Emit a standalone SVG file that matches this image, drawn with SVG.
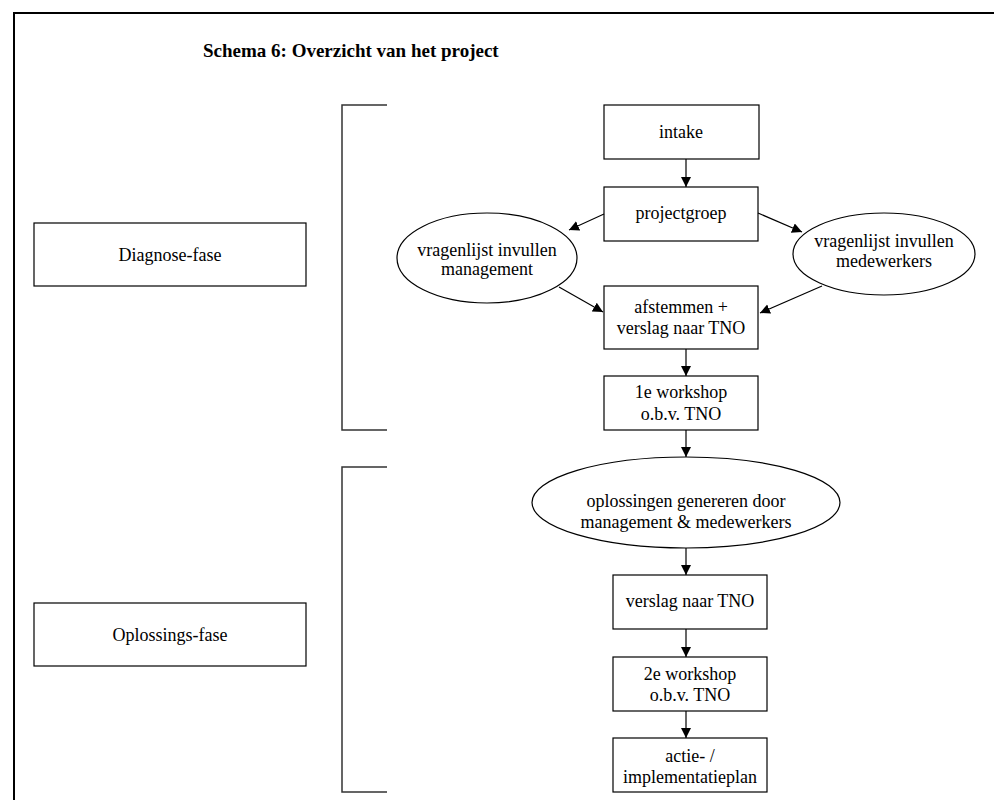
<svg xmlns="http://www.w3.org/2000/svg" width="994" height="800" viewBox="0 0 994 800">
  <style>
    text { font-family: "Liberation Serif", "Times New Roman", serif; font-size: 18px; fill: #000; text-anchor: middle; }
    .title { font-size: 19px; font-weight: bold; text-anchor: start; }
    .box { fill: #fff; stroke: #000; stroke-width: 1.2; }
    .bracket { fill: none; stroke: #333; stroke-width: 1.5; }
    .edge { fill: none; stroke: #000; stroke-width: 1.2; marker-end: url(#arrow); }
  </style>
  <defs>
    <marker id="arrow" markerUnits="userSpaceOnUse" markerWidth="11" markerHeight="11" refX="10" refY="5" orient="auto">
      <path d="M0,0 L10,5 L0,10 z" fill="#000"/>
    </marker>
  </defs>

  <rect width="994" height="800" fill="#fff"/>
  <!-- page frame (open to the right and bottom) -->
  <path d="M14,800 L14,13 L994,13" fill="none" stroke="#000" stroke-width="2"/>

  <text class="title" x="203" y="57">Schema 6: Overzicht van het project</text>

  <!-- phase brackets -->
  <path class="bracket" d="M387,105 L342,105 L342,430 L387,430"/>
  <path class="bracket" d="M387,467 L342,467 L342,792 L387,792"/>

  <!-- phase labels -->
  <g id="diagnose-fase">
    <rect class="box" x="34" y="223" width="272" height="63"/>
    <text x="170" y="261">Diagnose-fase</text>
  </g>
  <g id="oplossings-fase">
    <rect class="box" x="34" y="603" width="272" height="63"/>
    <text x="170" y="641">Oplossings-fase</text>
  </g>

  <!-- process steps -->
  <g id="intake">
    <rect class="box" x="604" y="105" width="155" height="54"/>
    <text x="681" y="138">intake</text>
  </g>
  <g id="projectgroep">
    <rect class="box" x="604" y="187" width="154" height="54"/>
    <text x="681" y="219">projectgroep</text>
  </g>
  <g id="vragenlijst-management">
    <ellipse class="box" cx="487" cy="258" rx="90" ry="45"/>
    <text x="487" y="256">vragenlijst invullen</text>
    <text x="487" y="275">management</text>
  </g>
  <g id="vragenlijst-medewerkers">
    <ellipse class="box" cx="884" cy="254" rx="91" ry="41"/>
    <text x="884" y="247">vragenlijst invullen</text>
    <text x="884" y="267">medewerkers</text>
  </g>
  <g id="afstemmen">
    <rect class="box" x="604" y="286" width="154" height="63"/>
    <text x="681" y="313">afstemmen +</text>
    <text x="681" y="334">verslag naar TNO</text>
  </g>
  <g id="workshop-1">
    <rect class="box" x="604" y="376" width="154" height="54"/>
    <text x="681" y="398">1e workshop</text>
    <text x="681" y="420">o.b.v. TNO</text>
  </g>
  <g id="oplossingen">
    <ellipse class="box" cx="686" cy="502.5" rx="154" ry="45.5"/>
    <text x="686" y="507">oplossingen genereren door</text>
    <text x="686" y="528">management &amp; medewerkers</text>
  </g>
  <g id="verslag">
    <rect class="box" x="613" y="575" width="154" height="54"/>
    <text x="690" y="607">verslag naar TNO</text>
  </g>
  <g id="workshop-2">
    <rect class="box" x="613" y="657" width="154" height="54"/>
    <text x="690" y="680">2e workshop</text>
    <text x="690" y="701">o.b.v. TNO</text>
  </g>
  <g id="actieplan">
    <rect class="box" x="613" y="738" width="154" height="54"/>
    <text x="690" y="762">actie- /</text>
    <text x="690" y="783">implementatieplan</text>
  </g>

  <!-- connectors -->
  <g id="connectors">
    <line class="edge" x1="686" y1="159" x2="686" y2="187"/>
    <line class="edge" x1="604" y1="214" x2="569" y2="230"/>
    <line class="edge" x1="758" y1="213" x2="802" y2="232"/>
    <line class="edge" x1="559" y1="287" x2="603" y2="312"/>
    <line class="edge" x1="822" y1="286" x2="760" y2="313"/>
    <line class="edge" x1="686" y1="349" x2="686" y2="376"/>
    <line class="edge" x1="686" y1="430" x2="686" y2="457"/>
    <line class="edge" x1="686" y1="548" x2="686" y2="575"/>
    <line class="edge" x1="686" y1="629" x2="686" y2="657"/>
    <line class="edge" x1="686" y1="711" x2="686" y2="738"/>
  </g>
</svg>
